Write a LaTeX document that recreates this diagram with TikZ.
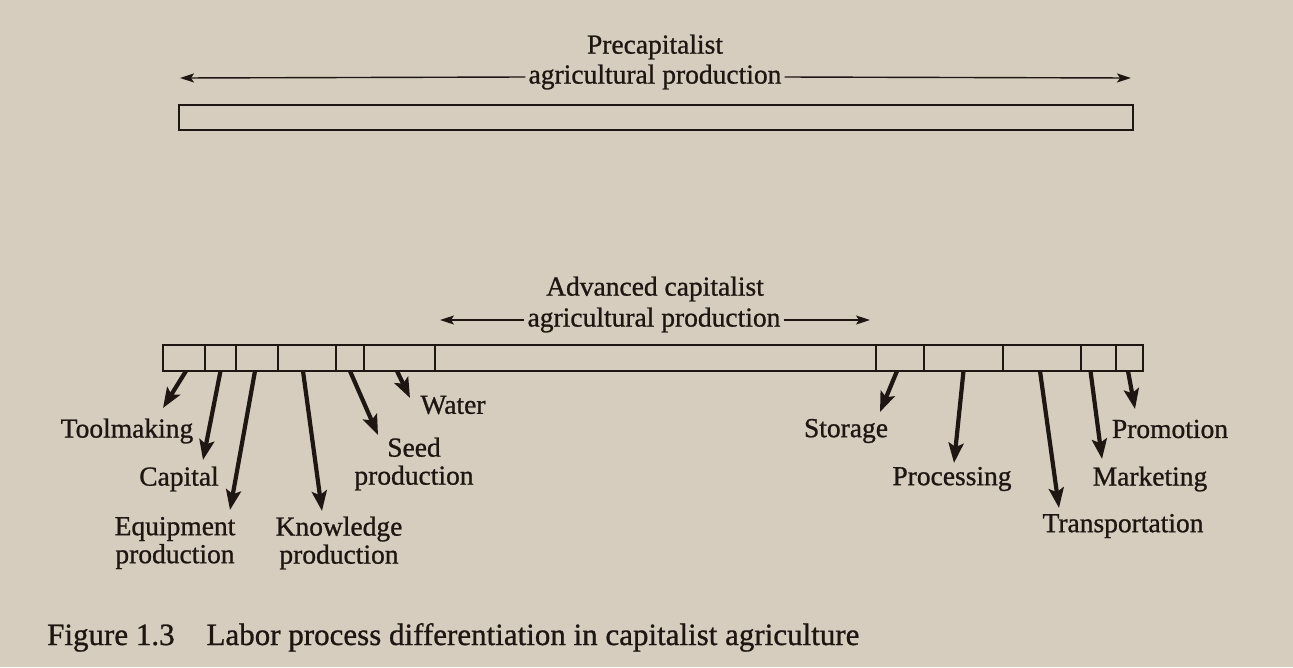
\documentclass[tikz,border=0pt]{standalone}
\usepackage{fontspec}
\setmainfont{Liberation Serif}
\newfontfamily\inkfont{Liberation Serif}[FakeBold=0.9]
\usetikzlibrary{arrows.meta}
\definecolor{paper}{RGB}{214,205,190}
\definecolor{ink}{RGB}{30,22,18}
\begin{document}
\begin{tikzpicture}[x=1pt,y=-1pt,
  cell/.style={draw=ink, line width=2pt, minimum height=26pt, inner sep=0pt, outer sep=0pt},
  lbl/.style={text=ink, font=\inkfont\fontsize{27.5}{28}\selectfont, align=center, inner sep=0pt},
  head/.style={text=ink, font=\inkfont\fontsize{27.5}{30}\selectfont, inner sep=3pt},
  thin/.style={draw=ink, line width=1.4pt, -{Stealth[length=14pt,width=9pt,inset=3pt]}},
  thick/.style={draw=ink, line width=4.2pt, -{Stealth[length=20pt,width=15pt,inset=4pt]}},
  captext/.style={text=ink, font=\inkfont\fontsize{31}{31}\selectfont, inner sep=0pt}]
\fill[paper] (0,0) rectangle (1293,667);
\useasboundingbox (0,0) rectangle (1293,667);
% top
\node[cell, minimum width=954pt, minimum height=25pt] (topbar) at (656,117.5) {};
\node[head] (pre1) at (655,47) {Precapitalist};
\node[head] (pre2) at (655,77) {agricultural production};
\coordinate (preL) at (180,78);
\coordinate (preR) at (1131,78);
\draw[thin] (pre2.west) -- (preL);
\draw[thin] (pre2.east) -- (preR);
% bottom bar
\node[cell, minimum width=42pt] (c1) at (184,358) {};
\node[cell, minimum width=31pt] (c2) at (220.5,358) {};
\node[cell, minimum width=42pt] (c3) at (257,358) {};
\node[cell, minimum width=58pt] (c4) at (307,358) {};
\node[cell, minimum width=28pt] (c5) at (350,358) {};
\node[cell, minimum width=71pt] (c6) at (399.5,358) {};
\node[cell, minimum width=441pt] (c7) at (655.5,358) {};
\node[cell, minimum width=48pt] (c8) at (900,358) {};
\node[cell, minimum width=79pt] (c9) at (963.5,358) {};
\node[cell, minimum width=78pt] (c10) at (1042,358) {};
\node[cell, minimum width=35pt] (c11) at (1098.5,358) {};
\node[cell, minimum width=27pt] (c12) at (1129.5,358) {};
\node[head] (adv1) at (655,289) {Advanced capitalist};
\node[head] (adv2) at (654,320) {agricultural production};
\coordinate (advL) at (440,320);
\coordinate (advR) at (870,320);
\draw[thin] (adv2.west) -- (advL);
\draw[thin] (adv2.east) -- (advR);
% tips
\coordinate (t1) at (163,408);
\coordinate (t2) at (203,460);
\coordinate (t3) at (230,510);
\coordinate (t4) at (322,511);
\coordinate (t5) at (378,435);
\coordinate (t6) at (410,398);
\coordinate (t7) at (880,412);
\coordinate (t8) at (954,463);
\coordinate (t9) at (1059,508);
\coordinate (t10) at (1102,459);
\coordinate (t11) at (1135,409);
\draw[thick] ([xshift=2pt]c1.south) -- (t1);
\draw[thick] (c2.south) -- (t2);
\draw[thick] ([xshift=-2pt]c3.south) -- (t3);
\draw[thick] ([xshift=-4pt]c4.south) -- (t4);
\draw[thick] (c5.south) -- (t5);
\draw[thick] ([xshift=-2.5pt]c6.south) -- (t6);
\draw[thick] ([xshift=-3pt]c8.south) -- (t7);
\draw[thick] (c9.south) -- (t8);
\draw[thick] ([xshift=-2pt]c10.south) -- (t9);
\draw[thick] ([xshift=-8pt]c11.south) -- (t10);
\draw[thick] ([xshift=-1.5pt]c12.south) -- (t11);
% labels
\node[lbl] (l1) at (127,431) {Toolmaking};
\node[lbl] (l2) at (179,479) {Capital};
\node[lbl] (l3) at (175,543) {Equipment\\production};
\node[lbl] (l4) at (339,543) {Knowledge\\production};
\node[lbl] (l5) at (414,464) {Seed\\production};
\node[lbl] (l6) at (453,405) {Water};
\node[lbl] (l7) at (846,431) {Storage};
\node[lbl] (l8) at (952,479) {Processing};
\node[lbl] (l9) at (1123,526) {Transportation};
\node[lbl] (l10) at (1150,479) {Marketing};
\node[lbl] (l11) at (1170,429) {Promotion};
% caption
\node[captext, anchor=base west] (caption) at (47,645) {Figure 1.3\hspace{1.03em}Labor process differentiation in capitalist agriculture};
\end{tikzpicture}
\end{document}
